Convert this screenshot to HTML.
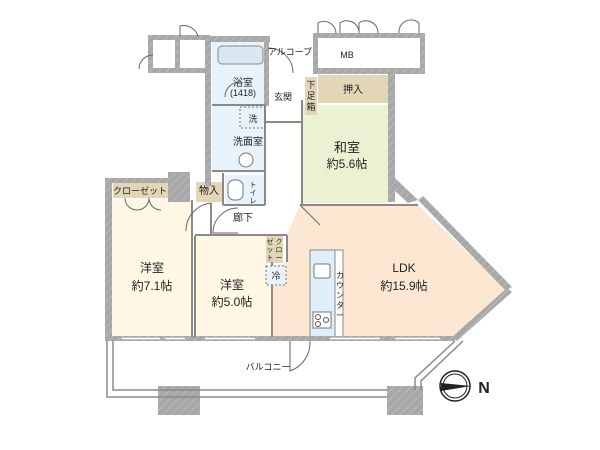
<!DOCTYPE html>
<html><head><meta charset="utf-8"><style>
html,body{margin:0;padding:0;background:#fff;}
svg{display:block;}
text{font-family:"Liberation Sans","Noto Sans CJK JP",sans-serif;fill:#222;}
</style></head><body>
<svg width="600" height="450" viewBox="0 0 600 450" xmlns="http://www.w3.org/2000/svg">
<defs>
<pattern id="h" width="6" height="6" patternUnits="userSpaceOnUse" patternTransform="rotate(45)">
<rect width="6" height="6" fill="#a8a8a8"/><line x1="0" y1="0" x2="0" y2="6" stroke="#cacaca" stroke-width="1"/>
</pattern>
</defs>
<rect x="112" y="200" width="80" height="137" fill="#fdf7e4"/>
<rect x="195" y="236" width="77" height="101" fill="#fdf7e4"/>
<polygon points="287,235 300,205 418,205 507,290 453,338 273,338 273,267 287,262" fill="#fce8d2"/>
<rect x="302" y="105" width="86" height="98" fill="#ebf2d3"/>
<rect x="318" y="75" width="70" height="28" fill="#e2d6b6"/>
<rect x="305" y="77" width="12" height="38" fill="#e2d6b6"/>
<rect x="212" y="42" width="53" height="63" fill="#e8f2fa"/>
<rect x="212" y="106" width="53" height="64" fill="#e8f2fa"/>
<rect x="225" y="175" width="40" height="30" fill="#e8f2fa"/>
<rect x="113" y="182" width="55" height="16" fill="#e2d6b6"/>
<rect x="196" y="182" width="27" height="20" fill="#e2d6b6"/>
<rect x="266" y="236" width="17" height="27" fill="#e2d6b6"/>
<rect x="218" y="46" width="45" height="18" rx="4" fill="#d7e8f4" stroke="#888" stroke-width="1"/>
<rect x="310" y="250" width="25" height="88" fill="#dfeef8" stroke="#888" stroke-width="1"/>
<rect x="335" y="250" width="8" height="88" fill="#fff" stroke="#888" stroke-width="1"/>
<rect x="314" y="264" width="16" height="14" rx="2" fill="#fff" stroke="#777"/>
<rect x="313" y="312" width="18" height="16" fill="#fff" stroke="#777"/>
<circle cx="318" cy="317" r="2.5" fill="none" stroke="#555"/><circle cx="318" cy="324" r="2.5" fill="none" stroke="#555"/><circle cx="326" cy="320" r="2.5" fill="none" stroke="#555"/>
<g fill="url(#h)">
<rect x="105" y="178" width="7" height="162"/>
<rect x="105" y="178" width="85" height="5"/>
<rect x="168" y="172" width="22" height="30"/>
<rect x="205" y="36" width="6" height="150"/>
<rect x="148" y="35" width="62" height="5"/>
<rect x="148" y="68" width="62" height="5"/>
<rect x="148" y="35" width="5" height="38"/>
<rect x="175" y="35" width="5" height="38"/>
<rect x="210" y="36" width="60" height="6"/>
<rect x="264" y="36" width="5" height="70"/>
<rect x="313" y="33" width="112" height="5"/>
<rect x="313" y="68" width="112" height="6"/>
<rect x="313" y="33" width="5" height="41"/>
<rect x="420" y="33" width="5" height="41"/>
<rect x="388" y="72" width="7" height="130"/>
<polygon points="395,178 418,200 408,203 395,191"/>
<polygon points="418,200 423,196 512,287 506,291"/>
<polygon points="507,288 512,292 457,341 452,337"/>
<rect x="105" y="336" width="350" height="5"/>
<rect x="158" y="386" width="42" height="29"/>
<rect x="387" y="386" width="36" height="29"/>
</g>
<!-- windows on bottom wall -->
<g stroke="#fff" stroke-width="1.5">
<line x1="122" y1="338.5" x2="160" y2="338.5"/><line x1="165" y1="338.5" x2="185" y2="338.5"/>
<line x1="205" y1="338.5" x2="255" y2="338.5"/><line x1="330" y1="338.5" x2="380" y2="338.5"/>
<line x1="395" y1="338.5" x2="440" y2="338.5"/>
</g>
<g stroke="#8a8a8a" stroke-width="2" fill="none">
<line x1="192" y1="200" x2="192" y2="337"/>
<line x1="195" y1="236" x2="195" y2="337"/>
<line x1="195" y1="235" x2="287" y2="235"/>
<line x1="272" y1="262" x2="272" y2="337"/>
<line x1="287" y1="235" x2="287" y2="262"/>
<line x1="300" y1="205" x2="418" y2="205"/>
<line x1="302" y1="100" x2="302" y2="205"/>
<line x1="212" y1="105" x2="265" y2="105"/>
<line x1="212" y1="171" x2="265" y2="171"/>
<line x1="223" y1="173" x2="223" y2="205"/>
<line x1="223" y1="205" x2="265" y2="205"/>
<line x1="265" y1="105" x2="265" y2="205"/>
<line x1="265" y1="122" x2="302" y2="122"/>
<line x1="211" y1="203" x2="211" y2="236"/>
</g>
<g stroke="#8a8a8a" stroke-width="1.5" fill="none">
<polyline points="107,341 107,397 387,397"/>
<polyline points="113,341 113,390 387,390"/>
<polyline points="455,341 415,378 415,390"/>
<polyline points="463,341 421,381 421,390"/>
</g>
<g stroke="#666" stroke-width="1" fill="none">
<path d="M290,341 v30 a30,30 0 0 0 20,-30"/>
<path d="M238,208 a25,25 0 0 0 -25,25 h25"/>
<path d="M211,203 a28,28 0 0 0 -25,28"/>
<path d="M125,198 a12,12 0 0 0 12,12 a12,12 0 0 0 12,-12 a12,12 0 0 0 12,12"/>
<path d="M240,82 a15,15 0 0 0 -15,15"/>
<path d="M293,73 a25,25 0 0 0 -25,-25"/>
<path d="M300,205 l20,20"/>
<path d="M153,55 a14,14 0 0 0 -14,14"/>
<path d="M180,36 v-10 a15,15 0 0 1 18,10"/>
<path d="M318,33 v-10 a12,12 0 0 1 18,10"/>
<path d="M340,33 v-10 a12,12 0 0 1 19,10 M359,33 v-10 a12,12 0 0 1 19,10"/>
<path d="M399,33 a12,12 0 0 1 20,-10 v10"/>
</g>
<rect x="240" y="107" width="25" height="21" fill="none" stroke="#777" stroke-dasharray="2,2"/>
<rect x="266" y="266" width="20" height="19" fill="#e8f2fa" stroke="#777" stroke-dasharray="2,2"/>
<rect x="228" y="180" width="15" height="20" rx="6" fill="#fff" stroke="#777"/>
<circle cx="246" cy="160" r="7" fill="#fff" stroke="#777"/>
<g font-size="9" text-anchor="middle">
<text x="290" y="55">アルコーブ</text>
<text x="347" y="58">MB</text>
<text x="243" y="86" font-size="10">浴室</text>
<text x="243" y="96">(1418)</text>
<text x="283" y="100">玄関</text>
<text x="311" y="88">下</text><text x="311" y="99">足</text><text x="311" y="110">箱</text>
<text x="353" y="93" font-size="10">押入</text>
<text x="253" y="122">洗</text>
<text x="248" y="145" font-size="10">洗面室</text>
<text x="347" y="152" font-size="13">和室</text>
<text x="347" y="168" font-size="12">約5.6帖</text>
<text x="140" y="194">クローゼット</text>
<text x="209" y="194" font-size="10">物入</text>
<text x="253" y="187" font-size="7">ト</text><text x="253" y="195" font-size="7">イ</text><text x="253" y="203" font-size="7">レ</text>
<text x="243" y="221" font-size="10">廊下</text>
<text x="152" y="272" font-size="12">洋室</text>
<text x="152" y="290" font-size="12">約7.1帖</text>
<text x="232" y="289" font-size="12">洋室</text>
<text x="232" y="306" font-size="12">約5.0帖</text>
<text x="270" y="244" font-size="7">ゼ</text><text x="270" y="252" font-size="7">ッ</text><text x="270" y="260" font-size="7">ト</text>
<text x="279" y="244" font-size="7">ク</text><text x="279" y="252" font-size="7">ロ</text><text x="279" y="260" font-size="7">ー</text>
<text x="276" y="279">冷</text>
<text x="340" y="278" font-size="8">カ</text><text x="340" y="288" font-size="8">ウ</text><text x="340" y="298" font-size="8">ン</text><text x="340" y="308" font-size="8">タ</text><text x="340" y="318" font-size="8">ー</text>
<text x="404" y="272" font-size="12">LDK</text>
<text x="404" y="290" font-size="12">約15.9帖</text>
<text x="268" y="370">バルコニー</text>
</g>
<circle cx="455" cy="386" r="15" fill="none" stroke="#222" stroke-width="1.5"/>
<circle cx="455" cy="386" r="12" fill="none" stroke="#222" stroke-width="1"/>
<polygon points="441,383 471,386 441,391" fill="#222"/>
<text x="484" y="393" font-size="16" font-weight="bold" text-anchor="middle">N</text>
</svg>
</body></html>
